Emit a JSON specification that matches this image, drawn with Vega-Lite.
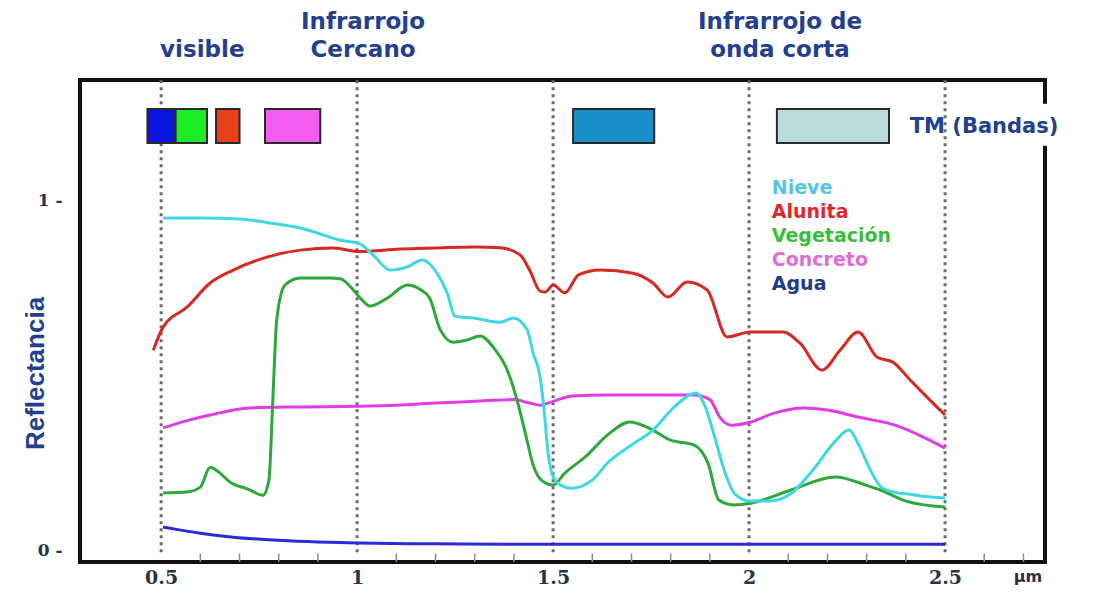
{
  "$schema": "https://vega.github.io/schema/vega-lite/v6.json",
  "width": 965,
  "height": 482,
  "autosize": "none",
  "padding": {"left": 80, "top": 80, "right": 49, "bottom": 31},
  "background": "white",
  "config": {
    "view": {"stroke": "#111111", "strokeWidth": 4},
    "axis": {"grid": false, "domain": false, "ticks": false}
  },
  "datasets": {
    "grid": [{"x": 0.5}, {"x": 1}, {"x": 1.5}, {"x": 2}, {"x": 2.5}],
    "minor": [
      {"x": 0.6}, {"x": 0.7}, {"x": 0.8}, {"x": 0.9},
      {"x": 1.1}, {"x": 1.2}, {"x": 1.3}, {"x": 1.4},
      {"x": 1.6}, {"x": 1.7}, {"x": 1.8}, {"x": 1.9},
      {"x": 2.1}, {"x": 2.2}, {"x": 2.3}, {"x": 2.4},
      {"x": 2.6}, {"x": 2.7}
    ],
    "bands": [
      {"b": "1", "x0": 0.465, "x1": 0.537},
      {"b": "2", "x0": 0.537, "x1": 0.617},
      {"b": "3", "x0": 0.64, "x1": 0.70},
      {"b": "4", "x0": 0.765, "x1": 0.906},
      {"b": "5", "x0": 1.551, "x1": 1.758},
      {"b": "7", "x0": 2.071, "x1": 2.357}
    ],
    "mask": [{"x0": 2.73, "x1": 2.78}],
    "spectra": [
      {"s": "Agua", "x": 0.505, "y": 0.066},
      {"s": "Agua", "x": 0.55, "y": 0.057},
      {"s": "Agua", "x": 0.6, "y": 0.048},
      {"s": "Agua", "x": 0.684, "y": 0.037},
      {"s": "Agua", "x": 0.8, "y": 0.028},
      {"s": "Agua", "x": 0.9, "y": 0.023},
      {"s": "Agua", "x": 1.003, "y": 0.02},
      {"s": "Agua", "x": 1.2, "y": 0.018},
      {"s": "Agua", "x": 1.4, "y": 0.017},
      {"s": "Agua", "x": 1.5, "y": 0.017},
      {"s": "Agua", "x": 2.0, "y": 0.017},
      {"s": "Agua", "x": 2.5, "y": 0.017},

      {"s": "Concreto", "x": 0.505, "y": 0.349},
      {"s": "Concreto", "x": 0.566, "y": 0.37},
      {"s": "Concreto", "x": 0.625, "y": 0.386},
      {"s": "Concreto", "x": 0.727, "y": 0.406},
      {"s": "Concreto", "x": 0.855, "y": 0.409},
      {"s": "Concreto", "x": 1.003, "y": 0.411},
      {"s": "Concreto", "x": 1.1, "y": 0.414},
      {"s": "Concreto", "x": 1.2, "y": 0.42},
      {"s": "Concreto", "x": 1.3, "y": 0.425},
      {"s": "Concreto", "x": 1.4, "y": 0.43},
      {"s": "Concreto", "x": 1.44, "y": 0.42},
      {"s": "Concreto", "x": 1.467, "y": 0.414},
      {"s": "Concreto", "x": 1.5, "y": 0.425},
      {"s": "Concreto", "x": 1.55, "y": 0.44},
      {"s": "Concreto", "x": 1.64, "y": 0.443},
      {"s": "Concreto", "x": 1.75, "y": 0.443},
      {"s": "Concreto", "x": 1.86, "y": 0.443},
      {"s": "Concreto", "x": 1.9, "y": 0.43},
      {"s": "Concreto", "x": 1.925, "y": 0.38},
      {"s": "Concreto", "x": 1.954, "y": 0.357},
      {"s": "Concreto", "x": 2.005, "y": 0.366},
      {"s": "Concreto", "x": 2.06, "y": 0.39},
      {"s": "Concreto", "x": 2.14, "y": 0.406},
      {"s": "Concreto", "x": 2.2, "y": 0.4},
      {"s": "Concreto", "x": 2.278, "y": 0.38},
      {"s": "Concreto", "x": 2.372, "y": 0.357},
      {"s": "Concreto", "x": 2.45, "y": 0.32},
      {"s": "Concreto", "x": 2.5, "y": 0.291},

      {"s": "Vegetación", "x": 0.505, "y": 0.163},
      {"s": "Vegetación", "x": 0.566, "y": 0.166},
      {"s": "Vegetación", "x": 0.6, "y": 0.18},
      {"s": "Vegetación", "x": 0.625, "y": 0.237},
      {"s": "Vegetación", "x": 0.65, "y": 0.22},
      {"s": "Vegetación", "x": 0.676, "y": 0.194},
      {"s": "Vegetación", "x": 0.72, "y": 0.175},
      {"s": "Vegetación", "x": 0.76, "y": 0.157},
      {"s": "Vegetación", "x": 0.775, "y": 0.2},
      {"s": "Vegetación", "x": 0.785, "y": 0.43},
      {"s": "Vegetación", "x": 0.795, "y": 0.66},
      {"s": "Vegetación", "x": 0.816, "y": 0.757},
      {"s": "Vegetación", "x": 0.855, "y": 0.777},
      {"s": "Vegetación", "x": 0.93, "y": 0.777},
      {"s": "Vegetación", "x": 0.957, "y": 0.775},
      {"s": "Vegetación", "x": 0.985, "y": 0.75},
      {"s": "Vegetación", "x": 1.008, "y": 0.72},
      {"s": "Vegetación", "x": 1.033, "y": 0.697},
      {"s": "Vegetación", "x": 1.077, "y": 0.72},
      {"s": "Vegetación", "x": 1.128, "y": 0.757},
      {"s": "Vegetación", "x": 1.16, "y": 0.745},
      {"s": "Vegetación", "x": 1.185, "y": 0.72},
      {"s": "Vegetación", "x": 1.212, "y": 0.63},
      {"s": "Vegetación", "x": 1.245, "y": 0.594},
      {"s": "Vegetación", "x": 1.28, "y": 0.6},
      {"s": "Vegetación", "x": 1.314, "y": 0.612},
      {"s": "Vegetación", "x": 1.347, "y": 0.58},
      {"s": "Vegetación", "x": 1.39, "y": 0.494},
      {"s": "Vegetación", "x": 1.41, "y": 0.42},
      {"s": "Vegetación", "x": 1.43, "y": 0.33},
      {"s": "Vegetación", "x": 1.45, "y": 0.24},
      {"s": "Vegetación", "x": 1.47, "y": 0.2},
      {"s": "Vegetación", "x": 1.5, "y": 0.186},
      {"s": "Vegetación", "x": 1.53, "y": 0.22},
      {"s": "Vegetación", "x": 1.582, "y": 0.266},
      {"s": "Vegetación", "x": 1.64, "y": 0.33},
      {"s": "Vegetación", "x": 1.696, "y": 0.366},
      {"s": "Vegetación", "x": 1.742, "y": 0.35},
      {"s": "Vegetación", "x": 1.8, "y": 0.314},
      {"s": "Vegetación", "x": 1.86, "y": 0.3},
      {"s": "Vegetación", "x": 1.895, "y": 0.249},
      {"s": "Vegetación", "x": 1.923, "y": 0.143},
      {"s": "Vegetación", "x": 1.96, "y": 0.129},
      {"s": "Vegetación", "x": 2.005, "y": 0.134},
      {"s": "Vegetación", "x": 2.105, "y": 0.171},
      {"s": "Vegetación", "x": 2.22, "y": 0.209},
      {"s": "Vegetación", "x": 2.3, "y": 0.185},
      {"s": "Vegetación", "x": 2.337, "y": 0.171},
      {"s": "Vegetación", "x": 2.4, "y": 0.14},
      {"s": "Vegetación", "x": 2.5, "y": 0.123},

      {"s": "Alunita", "x": 0.48, "y": 0.571},
      {"s": "Alunita", "x": 0.505, "y": 0.637},
      {"s": "Alunita", "x": 0.566, "y": 0.694},
      {"s": "Alunita", "x": 0.625, "y": 0.763},
      {"s": "Alunita", "x": 0.684, "y": 0.8},
      {"s": "Alunita", "x": 0.77, "y": 0.837},
      {"s": "Alunita", "x": 0.855, "y": 0.857},
      {"s": "Alunita", "x": 0.94, "y": 0.863},
      {"s": "Alunita", "x": 1.003, "y": 0.853},
      {"s": "Alunita", "x": 1.11, "y": 0.86},
      {"s": "Alunita", "x": 1.2, "y": 0.863},
      {"s": "Alunita", "x": 1.3, "y": 0.866},
      {"s": "Alunita", "x": 1.365, "y": 0.864},
      {"s": "Alunita", "x": 1.416, "y": 0.843},
      {"s": "Alunita", "x": 1.44, "y": 0.8},
      {"s": "Alunita", "x": 1.467, "y": 0.74},
      {"s": "Alunita", "x": 1.48, "y": 0.737},
      {"s": "Alunita", "x": 1.5, "y": 0.757},
      {"s": "Alunita", "x": 1.53, "y": 0.735},
      {"s": "Alunita", "x": 1.565, "y": 0.786},
      {"s": "Alunita", "x": 1.62, "y": 0.8},
      {"s": "Alunita", "x": 1.704, "y": 0.791},
      {"s": "Alunita", "x": 1.755, "y": 0.763},
      {"s": "Alunita", "x": 1.793, "y": 0.723},
      {"s": "Alunita", "x": 1.842, "y": 0.766},
      {"s": "Alunita", "x": 1.893, "y": 0.743},
      {"s": "Alunita", "x": 1.944, "y": 0.609},
      {"s": "Alunita", "x": 2.003, "y": 0.623},
      {"s": "Alunita", "x": 2.087, "y": 0.623},
      {"s": "Alunita", "x": 2.13, "y": 0.591},
      {"s": "Alunita", "x": 2.186, "y": 0.514},
      {"s": "Alunita", "x": 2.232, "y": 0.571},
      {"s": "Alunita", "x": 2.278, "y": 0.623},
      {"s": "Alunita", "x": 2.327, "y": 0.551},
      {"s": "Alunita", "x": 2.367, "y": 0.537},
      {"s": "Alunita", "x": 2.411, "y": 0.486},
      {"s": "Alunita", "x": 2.454, "y": 0.437},
      {"s": "Alunita", "x": 2.5, "y": 0.386},

      {"s": "Nieve", "x": 0.505, "y": 0.949},
      {"s": "Nieve", "x": 0.6, "y": 0.949},
      {"s": "Nieve", "x": 0.7, "y": 0.946},
      {"s": "Nieve", "x": 0.77, "y": 0.936},
      {"s": "Nieve", "x": 0.855, "y": 0.92},
      {"s": "Nieve", "x": 0.898, "y": 0.906},
      {"s": "Nieve", "x": 0.957, "y": 0.885},
      {"s": "Nieve", "x": 1.003, "y": 0.877},
      {"s": "Nieve", "x": 1.041, "y": 0.843},
      {"s": "Nieve", "x": 1.084, "y": 0.8},
      {"s": "Nieve", "x": 1.128, "y": 0.809},
      {"s": "Nieve", "x": 1.166, "y": 0.829},
      {"s": "Nieve", "x": 1.204, "y": 0.791},
      {"s": "Nieve", "x": 1.23, "y": 0.734},
      {"s": "Nieve", "x": 1.25, "y": 0.668},
      {"s": "Nieve", "x": 1.296, "y": 0.663},
      {"s": "Nieve", "x": 1.365, "y": 0.651},
      {"s": "Nieve", "x": 1.398, "y": 0.663},
      {"s": "Nieve", "x": 1.434, "y": 0.629},
      {"s": "Nieve", "x": 1.449, "y": 0.563},
      {"s": "Nieve", "x": 1.467, "y": 0.494},
      {"s": "Nieve", "x": 1.477, "y": 0.4},
      {"s": "Nieve", "x": 1.487, "y": 0.28},
      {"s": "Nieve", "x": 1.5, "y": 0.21},
      {"s": "Nieve", "x": 1.52, "y": 0.185},
      {"s": "Nieve", "x": 1.546, "y": 0.177},
      {"s": "Nieve", "x": 1.6, "y": 0.2},
      {"s": "Nieve", "x": 1.64, "y": 0.25},
      {"s": "Nieve", "x": 1.7, "y": 0.3},
      {"s": "Nieve", "x": 1.755, "y": 0.343},
      {"s": "Nieve", "x": 1.81, "y": 0.41},
      {"s": "Nieve", "x": 1.865, "y": 0.449},
      {"s": "Nieve", "x": 1.888, "y": 0.41},
      {"s": "Nieve", "x": 1.913, "y": 0.32},
      {"s": "Nieve", "x": 1.939, "y": 0.22},
      {"s": "Nieve", "x": 1.964, "y": 0.16},
      {"s": "Nieve", "x": 2.003, "y": 0.14},
      {"s": "Nieve", "x": 2.054, "y": 0.14},
      {"s": "Nieve", "x": 2.105, "y": 0.16},
      {"s": "Nieve", "x": 2.163, "y": 0.229},
      {"s": "Nieve", "x": 2.219, "y": 0.31},
      {"s": "Nieve", "x": 2.255, "y": 0.343},
      {"s": "Nieve", "x": 2.28, "y": 0.3},
      {"s": "Nieve", "x": 2.309, "y": 0.23},
      {"s": "Nieve", "x": 2.337, "y": 0.18},
      {"s": "Nieve", "x": 2.372, "y": 0.165},
      {"s": "Nieve", "x": 2.406, "y": 0.16},
      {"s": "Nieve", "x": 2.449, "y": 0.153},
      {"s": "Nieve", "x": 2.5, "y": 0.149}
    ],
    "names": [
      {"s": "Nieve", "x": 2.058, "y": 1.035},
      {"s": "Alunita", "x": 2.058, "y": 0.966},
      {"s": "Vegetación", "x": 2.058, "y": 0.898},
      {"s": "Concreto", "x": 2.058, "y": 0.828},
      {"s": "Agua", "x": 2.058, "y": 0.76}
    ],
    "headers": [
      {"t": "visible", "x": 0.605, "y": 1.429},
      {"t": "Infrarrojo", "x": 1.015, "y": 1.509},
      {"t": "Cercano", "x": 1.015, "y": 1.429},
      {"t": "Infrarrojo de", "x": 2.079, "y": 1.509},
      {"t": "onda corta", "x": 2.079, "y": 1.429}
    ],
    "tm": [{"t": "TM (Bandas)", "x": 2.41, "y": 1.21}]
  },
  "layer": [
    {
      "data": {"name": "grid"},
      "mark": {"type": "rule", "color": "#6b6b6b", "strokeWidth": 3, "strokeDash": [3, 4]},
      "encoding": {
        "x": {"field": "x", "type": "quantitative", "scale": {"domain": [0.293, 2.755], "nice": false, "zero": false},
          "axis": {
            "values": [0.5, 1, 1.5, 2, 2.5, 2.71],
            "labelExpr": "datum.value > 2.6 ? 'µm' : format(datum.value, '~g')",
            "labelFont": {"condition": {"test": "datum.value > 2.6", "value": "DejaVu Sans"}, "value": "DejaVu Serif"},
            "labelFontSize": {"condition": {"test": "datum.value > 2.6", "value": 16}, "value": 19},
            "labelFontWeight": "bold",
            "labelColor": "#2b3245",
            "labelPadding": 6,
            "labelFlush": false,
            "title": null
          }},
        "y": {"datum": -0.006, "type": "quantitative", "scale": {"domain": [-0.034, 1.343], "nice": false, "zero": false},
          "axis": {
            "values": [0, 1],
            "labelExpr": "datum.value + ' -'",
            "labelFont": "DejaVu Serif",
            "labelFontWeight": "bold",
            "labelFontSize": 17,
            "labelColor": "#2b3245",
            "labelPadding": 18,
            "title": "Reflectancia",
            "titleFont": "Liberation Sans Narrow, Liberation Sans, sans-serif",
            "titleFontSize": 26,
            "titleFontWeight": "bold",
            "titleColor": "#243f8f",
            "titleAngle": -90,
            "titleBaseline": "middle",
            "titleAlign": "center",
            "titleX": -45,
            "titleY": 293
          }},
        "y2": {"datum": 1.343}
      }
    },
    {
      "data": {"name": "minor"},
      "mark": {"type": "rule", "color": "#8a8a8a", "strokeWidth": 1.5},
      "encoding": {
        "x": {"field": "x", "type": "quantitative"},
        "y": {"datum": -0.034},
        "y2": {"datum": -0.01}
      }
    },
    {
      "data": {"name": "bands"},
      "mark": {"type": "rect", "stroke": "#2a2a2a", "strokeWidth": 2},
      "encoding": {
        "x": {"field": "x0", "type": "quantitative"},
        "x2": {"field": "x1"},
        "y": {"datum": 1.163},
        "y2": {"datum": 1.26},
        "fill": {"field": "b", "type": "nominal",
          "scale": {"domain": ["1", "2", "3", "4", "5", "7"], "range": ["#0a14e0", "#1aee22", "#e8401a", "#f55cf2", "#1a90c8", "#b9dcdc"]},
          "legend": null}
      }
    },
    {
      "data": {"name": "spectra"},
      "mark": {"type": "line", "strokeWidth": 3, "interpolate": "monotone"},
      "encoding": {
        "x": {"field": "x", "type": "quantitative"},
        "y": {"field": "y", "type": "quantitative"},
        "color": {"field": "s", "type": "nominal",
          "scale": {"domain": ["Nieve", "Alunita", "Vegetación", "Concreto", "Agua"], "range": ["#3fd8e2", "#d42a22", "#2ea83a", "#e03ce6", "#2a2ad8"]},
          "legend": null}
      }
    },
    {
      "data": {"name": "mask"},
      "mark": {"type": "rect", "color": "white"},
      "encoding": {
        "x": {"field": "x0", "type": "quantitative"},
        "x2": {"field": "x1"},
        "y": {"datum": 1.155},
        "y2": {"datum": 1.275}
      }
    },
    {
      "data": {"name": "names"},
      "mark": {"type": "text", "align": "left", "baseline": "middle", "font": "DejaVu Sans", "fontWeight": "bold", "fontSize": 19},
      "encoding": {
        "x": {"field": "x", "type": "quantitative"},
        "y": {"field": "y", "type": "quantitative"},
        "text": {"field": "s"},
        "fill": {"field": "s", "type": "nominal",
          "scale": {"domain": ["Nieve", "Alunita", "Vegetación", "Concreto", "Agua"], "range": ["#55c4e8", "#e0262f", "#3cbc3c", "#dc6fd6", "#1f3a86"]},
          "legend": null}
      }
    },
    {
      "data": {"name": "headers"},
      "mark": {"type": "text", "align": "center", "baseline": "middle", "font": "DejaVu Sans", "fontWeight": "bold", "fontSize": 23, "color": "#23408c"},
      "encoding": {
        "x": {"field": "x", "type": "quantitative"},
        "y": {"field": "y", "type": "quantitative"},
        "text": {"field": "t"}
      }
    },
    {
      "data": {"name": "tm"},
      "mark": {"type": "text", "align": "left", "baseline": "middle", "font": "DejaVu Sans", "fontWeight": "bold", "fontSize": 21, "color": "#23408c"},
      "encoding": {
        "x": {"field": "x", "type": "quantitative"},
        "y": {"field": "y", "type": "quantitative"},
        "text": {"field": "t"}
      }
    }
  ],
  "resolve": {"scale": {"color": "independent", "fill": "independent"}}
}
